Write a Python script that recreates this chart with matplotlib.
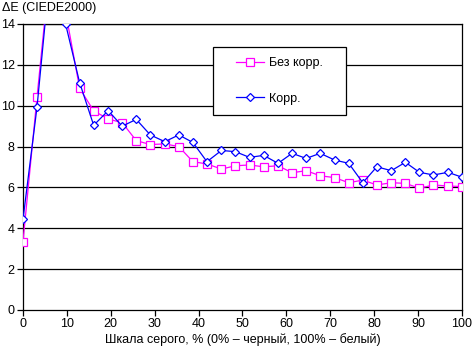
import matplotlib
matplotlib.use("Agg")
import matplotlib.pyplot as plt
from matplotlib.patches import Rectangle

# gray levels, % (0% - black, 100% - white)
gray = [0, 3.2, 6.5, 9.7, 12.9, 16.1, 19.4, 22.6, 25.8, 29.0, 32.3, 35.5,
        38.7, 41.9, 45.2, 48.4, 51.6, 54.8, 58.1, 61.3, 64.5, 67.7, 71.0,
        74.2, 77.4, 80.6, 83.9, 87.1, 90.3, 93.5, 96.8, 100]

no_corr = [3.35, 10.44, 17.5, 14.6, 10.85, 9.75, 9.35, 9.17, 8.29, 8.10,
           8.13, 8.0, 7.26, 7.15, 6.9, 7.06, 7.1, 7.01, 7.06, 6.72, 6.82,
           6.57, 6.48, 6.23, 6.36, 6.12, 6.23, 6.2, 5.96, 6.12, 6.07, 6.04]

corr = [4.44, 9.95, 17.3, 14.0, 11.13, 9.04, 9.76, 9.0, 9.33, 8.57, 8.24,
        8.57, 8.2, 7.26, 7.81, 7.75, 7.47, 7.57, 7.18, 7.67, 7.42, 7.67,
        7.34, 7.18, 6.23, 7.01, 6.82, 7.23, 6.74, 6.61, 6.74, 6.5]

x_ticks = [0, 10, 20, 30, 40, 50, 60, 70, 80, 90, 100]
y_ticks = [0, 2, 4, 6, 8, 10, 12, 14]

plt.rcParams['font.family'] = ['Liberation Sans', 'DejaVu Sans']
fs = 9

fig = plt.figure(figsize=(4.72, 3.53), dpi=100)
ax = fig.add_axes([23 / 472, 43 / 353, 439 / 472, 286 / 353])

for y in y_ticks[1:]:
    ax.axhline(y, color='black', lw=0.9, zorder=1)

ax.plot(gray, no_corr, color='#FF00FF', lw=0.9, marker='s', ms=5.6,
        mfc='white', mec='#FF00FF', mew=0.9, label='Без корр.', zorder=3)
ax.plot(gray, corr, color='#0000FF', lw=0.9, marker='D', ms=4.4,
        mfc='white', mec='#0000FF', mew=0.9, label='Корр.', zorder=4)

ax.set_xlim(0, 100)
ax.set_ylim(0, 14)
ax.set_xticks(x_ticks)
ax.set_yticks(y_ticks)
ax.tick_params(direction='out', length=4, width=0.9, labelsize=fs,
               colors='black', pad=2)
for s in ax.spines.values():
    s.set_color('black')
    s.set_linewidth(0.9)

ax.set_xlabel('Шкала серого, % (0% – черный, 100% – белый)', fontsize=fs,
              labelpad=2)
fig.text(0.004, 0.995, 'ΔE (CIEDE2000)', fontsize=fs, ha='left', va='top')

# legend box
box = Rectangle((0.433, 0.6825), 0.302, 0.237, transform=ax.transAxes,
                facecolor='white', edgecolor='black', lw=0.9, zorder=5)
ax.add_patch(box)
leg = ax.legend(loc='center', bbox_to_anchor=(0.584, 0.801), frameon=False,
                fontsize=fs, numpoints=1, handlelength=2.3,
                handletextpad=0.4, labelspacing=1.9)
leg.set_zorder(6)

fig.savefig('out.png', dpi=100)
